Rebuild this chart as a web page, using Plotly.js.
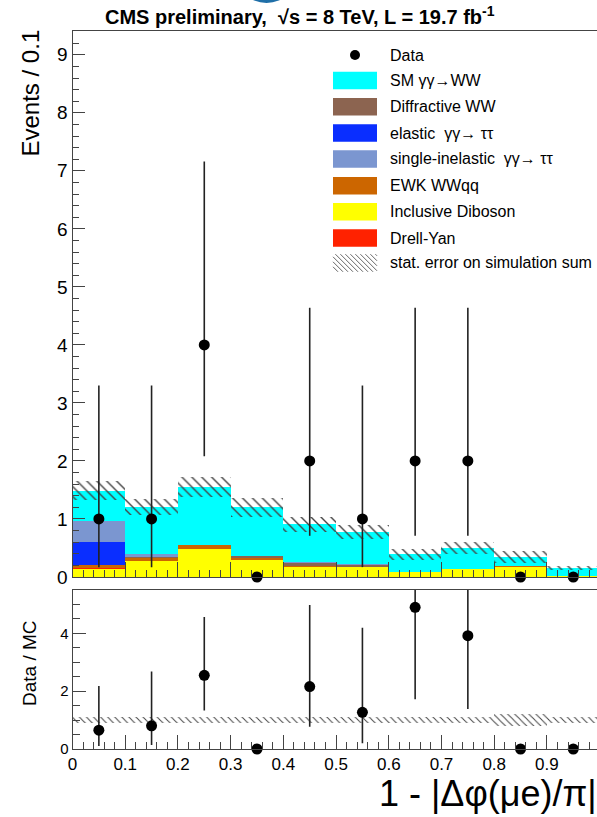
<!DOCTYPE html>
<html>
<head>
<meta charset="utf-8">
<script src="https://cdn.plot.ly/plotly-3.0.1.min.js"></script>
<style>html,body{margin:0;padding:0;background:#fff;overflow:hidden}</style>
</head>
<body>
<div id="chart" style="width:597px;height:817px"></div>
<script>
// ---- data ----
const binCenters = [0.05, 0.15, 0.25, 0.35, 0.45, 0.55, 0.65, 0.75, 0.85, 0.95];
const inclusiveDiboson = [0.13, 0.28, 0.48, 0.30, 0.18, 0.18, 0.08, 0.14, 0.18, 0.01];
const drellYan         = [0.02, 0.00, 0.00, 0.00, 0.00, 0.00, 0.00, 0.00, 0.00, 0.00];
const ewkWWqq          = [0.05, 0.05, 0.07, 0.02, 0.01, 0.00, 0.005, 0.005, 0.005, 0.00];
const diffractiveWW    = [0.00, 0.02, 0.01, 0.04, 0.05, 0.02, 0.00, 0.00, 0.00, 0.00];
const elasticTauTau    = [0.40, 0.00, 0.00, 0.00, 0.00, 0.00, 0.00, 0.00, 0.00, 0.00];
const singleInelTauTau = [0.36, 0.04, 0.00, 0.00, 0.01, 0.02, 0.00, 0.00, 0.00, 0.00];
const smGGWW           = [0.53, 0.82, 0.99, 0.84, 0.66, 0.56, 0.305, 0.355, 0.155, 0.145];
const mcStatErr        = [0.16, 0.14, 0.17, 0.16, 0.13, 0.12, 0.09, 0.10, 0.10, 0.03];
const dataCounts   = [1, 1, 4, 0, 2, 1, 2, 2, 0, 0];
const dataErrUp    = [2.30, 2.30, 3.16, 0, 2.64, 2.30, 2.64, 2.64, 0, 0];
const dataErrDown  = [0.83, 0.83, 1.92, 0, 1.29, 0.83, 1.29, 1.29, 0, 0];
const ratio        = [0.65, 0.80, 2.55, 0, 2.16, 1.27, 4.90, 3.92, 0, 0];
const ratioErrUp   = [1.53, 1.88, 2.02, 0, 2.82, 2.92, 3.00, 3.00, 0, 0];
const ratioErrDown = [0.55, 0.66, 1.22, 0, 1.39, 1.07, 3.18, 2.54, 0, 0];
const ratioBandErr = [0.10, 0.10, 0.10, 0.10, 0.10, 0.10, 0.10, 0.10, 0.20, 0.10];

const components = [
  {name: 'Inclusive Diboson', y: inclusiveDiboson, color: '#ffff00'},
  {name: 'Drell-Yan', y: drellYan, color: '#ff2200'},
  {name: 'EWK WWqq', y: ewkWWqq, color: '#cc6600'},
  {name: 'Diffractive WW', y: diffractiveWW, color: '#8c6450'},
  {name: 'elastic γγ→ ττ', y: elasticTauTau, color: '#0a2eff'},
  {name: 'single-inelastic γγ→ ττ', y: singleInelTauTau, color: '#7b96d0'},
  {name: 'SM γγ→WW', y: smGGWW, color: '#00ffff'}
];

const W = 597, H = 817;
const px = v => v / W;
const py = v => 1 - v / H;
const FONT = 'Liberation Sans, Arial, Helvetica, sans-serif';

const traces = [];
let cum = binCenters.map(() => 0);
components.forEach(c => {
  traces.push({
    type: 'bar', x: binCenters, y: c.y, base: cum.slice(), width: 0.1,
    marker: {color: c.color, line: {width: 0}}, name: c.name,
    xaxis: 'x', yaxis: 'y', hoverinfo: 'skip'
  });
  cum = cum.map((v, i) => v + c.y[i]);
});
const total = cum;
// MC stat error hatch
traces.push({
  type: 'bar', x: binCenters, y: mcStatErr.map(e => 2 * e),
  base: total.map((t, i) => t - mcStatErr[i]), width: 0.1,
  marker: {color: 'rgba(0,0,0,0)', line: {width: 0},
    pattern: {shape: '\\', fgcolor: '#444', bgcolor: 'rgba(0,0,0,0)', size: 7, solidity: 0.2, fillmode: 'replace'}},
  xaxis: 'x', yaxis: 'y', hoverinfo: 'skip'
});
// data error bars (clipped)
traces.push({
  type: 'scatter', mode: 'markers', x: binCenters, y: dataCounts,
  marker: {size: 1, color: 'rgba(0,0,0,0)'},
  error_y: {type: 'data', symmetric: false, array: dataErrUp, arrayminus: dataErrDown, width: 0, thickness: 1.6, color: '#222'},
  xaxis: 'x', yaxis: 'y', cliponaxis: true, hoverinfo: 'skip'
});
traces.push({
  type: 'scatter', mode: 'markers', x: binCenters, y: dataCounts,
  marker: {size: 11, color: '#000'}, xaxis: 'x', yaxis: 'y', cliponaxis: false
});
// ratio band
traces.push({
  type: 'bar', x: binCenters, y: ratioBandErr.map(e => 2 * e),
  base: ratioBandErr.map(e => 1 - e), width: 0.1,
  marker: {color: 'rgba(0,0,0,0)', line: {width: 0},
    pattern: {shape: '\\', fgcolor: '#444', bgcolor: 'rgba(0,0,0,0)', size: 5, solidity: 0.2, fillmode: 'replace'}},
  xaxis: 'x2', yaxis: 'y2', hoverinfo: 'skip'
});
traces.push({
  type: 'scatter', mode: 'markers', x: binCenters, y: ratio,
  marker: {size: 1, color: 'rgba(0,0,0,0)'},
  error_y: {type: 'data', symmetric: false, array: ratioErrUp, arrayminus: ratioErrDown, width: 0, thickness: 1.6, color: '#222'},
  xaxis: 'x2', yaxis: 'y2', cliponaxis: true, hoverinfo: 'skip'
});
traces.push({
  type: 'scatter', mode: 'markers', x: binCenters, y: ratio,
  marker: {size: 11, color: '#000'}, xaxis: 'x2', yaxis: 'y2', cliponaxis: false
});

const xDomain = [px(72.5), 1];
const axisCommon = {showgrid: false, zeroline: false, showline: true, linecolor: '#444', linewidth: 1,
  ticks: 'inside', tickcolor: '#444', tickfont: {family: FONT, color: '#000'}};

const annotations = [];
const shapes = [];
function ann(text, x, y, size, opts) {
  annotations.push(Object.assign({text, x: px(x), y: py(y), xref: 'paper', yref: 'paper',
    showarrow: false, font: {family: FONT, size, color: '#000'}, xanchor: 'center', yanchor: 'middle'}, opts || {}));
}
ann('<b>CMS preliminary,  √s = 8 TeV, L = 19.7 fb<sup>-1</sup></b>', 300, 15, 20);
ann('Events / 0.1', 30, 28, 24, {textangle: -90, yanchor: 'top'});
ann('Data / MC', 29, 663, 19, {textangle: -90});
ann('1 - |Δφ(μe)/π|', 599, 793, 36, {xanchor: 'right'});

// logo fragment
shapes.push({type: 'circle', xref: 'paper', yref: 'paper', x0: px(234.5), x1: px(298.5), y0: py(3), y1: py(-61),
  fillcolor: '#1f6fa8', line: {width: 0}});

// legend
const legendRows = [
  {label: 'Data', y: 55, kind: 'marker'},
  {label: 'SM γγ→WW', y: 80.5, color: '#00ffff'},
  {label: 'Diffractive WW', y: 106.7, color: '#8c6450'},
  {label: 'elastic  γγ→ ττ', y: 133, color: '#0a2eff'},
  {label: 'single-inelastic  γγ→ ττ', y: 159, color: '#7b96d0'},
  {label: 'EWK WWqq', y: 185.7, color: '#cc6600'},
  {label: 'Inclusive Diboson', y: 211.7, color: '#ffff00'},
  {label: 'Drell-Yan', y: 238, color: '#ff2200'},
  {label: 'stat. error on simulation sum', y: 263, kind: 'hatch'}
];
const bx0 = 333, bx1 = 377, bh = 17.6;
legendRows.forEach(r => {
  ann(r.label, 388, r.y, 16, {xanchor: 'left'});
  if (r.kind === 'marker') {
    shapes.push({type: 'circle', xref: 'paper', yref: 'paper', x0: px(350), x1: px(360), y0: py(r.y + 5), y1: py(r.y - 5),
      fillcolor: '#000', line: {width: 0}});
  } else if (r.kind === 'hatch') {
    const t = r.y - bh / 2, b = r.y + bh / 2;
    for (let s = bx0 - bh; s < bx1; s += 5) {
      let xa = s, ya = t, xb = s + bh, yb = b;
      if (xa < bx0) { ya = t + (bx0 - xa); xa = bx0; }
      if (xb > bx1) { yb = b - (xb - bx1); xb = bx1; }
      if (xb <= xa) continue;
      shapes.push({type: 'line', xref: 'paper', yref: 'paper', x0: px(xa), y0: py(ya), x1: px(xb), y1: py(yb),
        line: {color: '#666', width: 1}});
    }
  } else {
    shapes.push({type: 'rect', xref: 'paper', yref: 'paper', x0: px(bx0), x1: px(bx1), y0: py(r.y + bh / 2), y1: py(r.y - bh / 2),
      fillcolor: r.color, line: {width: 0}});
  }
});

const layout = {
  width: W, height: H, margin: {l: 0, r: 0, t: 0, b: 0},
  paper_bgcolor: '#fff', plot_bgcolor: '#fff', showlegend: false,
  barmode: 'overlay', bargap: 0,
  xaxis: Object.assign({}, axisCommon, {domain: xDomain, anchor: 'y', range: [0, 0.995], dtick: 0.1, tick0: 0,
    ticklen: 15, showticklabels: false, mirror: true,
    minor: {dtick: 0.02, tick0: 0, ticklen: 7, ticks: 'inside', tickcolor: '#444'}}),
  yaxis: Object.assign({}, axisCommon, {domain: [py(577), py(31)], anchor: 'x', range: [0, 9.41], dtick: 1, tick0: 0,
    ticklen: 12, tickfont: {family: FONT, size: 19, color: '#000'},
    minor: {dtick: 0.2, tick0: 0, ticklen: 6, ticks: 'inside', tickcolor: '#444'}}),
  xaxis2: Object.assign({}, axisCommon, {domain: xDomain, anchor: 'y2', range: [0, 0.995], dtick: 0.1, tick0: 0,
    ticklen: 14, mirror: true, tickfont: {family: FONT, size: 17, color: '#000'},
    minor: {dtick: 0.02, tick0: 0, ticklen: 7, ticks: 'inside', tickcolor: '#444'}}),
  yaxis2: Object.assign({}, axisCommon, {domain: [py(749), py(590)], anchor: 'x2', range: [0, 5.5], dtick: 2, tick0: 0,
    ticklen: 13, tickfont: {family: FONT, size: 15, color: '#000'},
    minor: {dtick: 0.5, tick0: 0, ticklen: 7, ticks: 'inside', tickcolor: '#444'}}),
  annotations, shapes
};
Plotly.newPlot('chart', traces, layout, {displayModeBar: false, staticPlot: true});
</script>
</body>
</html>
